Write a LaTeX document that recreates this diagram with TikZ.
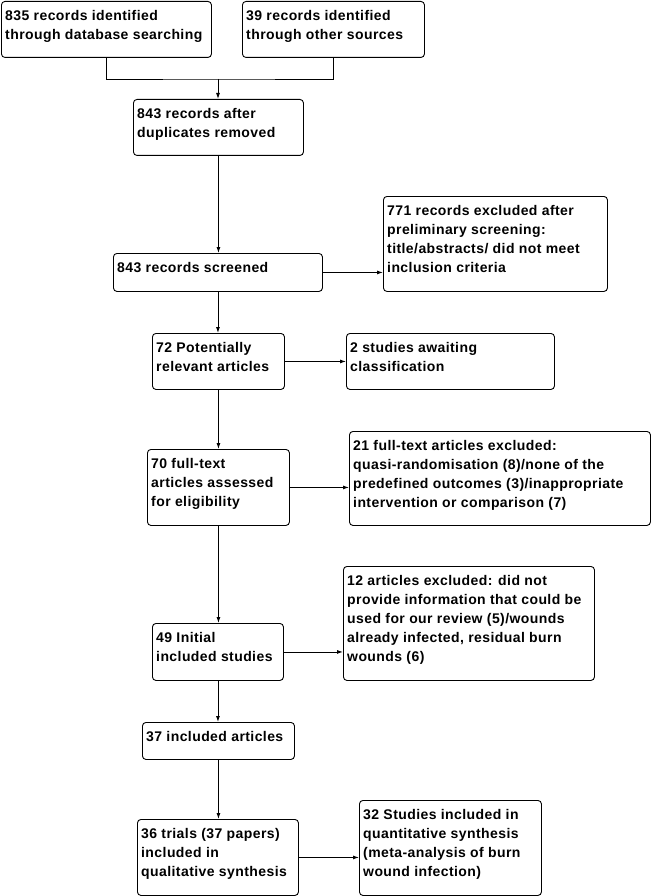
\documentclass[tikz,border=0pt]{standalone}
\usepackage{fontspec}
\newfontfamily\boxfont{Liberation Sans}[LetterSpace=3]
\usetikzlibrary{arrows.meta,calc}
\begin{document}
\begin{tikzpicture}[x=1pt,y=-1pt,
 box/.style={draw, line width=0.9pt, rounded corners=3.5pt, inner sep=0pt, anchor=north west},
 txt/.style={inner sep=0pt, anchor=north west, align=left, font=\boxfont\bfseries\fontsize{14}{19}\selectfont},
 arr/.style={line width=0.9pt, -{Latex[length=6pt,width=4pt]}},
 ln/.style={line width=0.9pt}]
\useasboundingbox (0,0) rectangle (655,896);
% boxes
\node[box, minimum width=210pt, minimum height=56pt] (a) at (1,1) {};
\node[box, minimum width=182pt, minimum height=56pt] (b) at (242,1) {};
\node[box, minimum width=170pt, minimum height=56pt] (c) at (133,99) {};
\node[box, minimum width=209pt, minimum height=38pt] (d) at (113,253) {};
\node[box, minimum width=224pt, minimum height=95pt] (e) at (383,196) {};
\node[box, minimum width=132pt, minimum height=56pt] (f) at (152,333) {};
\node[box, minimum width=208pt, minimum height=56pt] (g) at (346,333) {};
\node[box, minimum width=142pt, minimum height=76pt] (h) at (147,449) {};
\node[box, minimum width=301pt, minimum height=94pt] (i) at (349,431) {};
\node[box, minimum width=131pt, minimum height=57pt] (j) at (152,623) {};
\node[box, minimum width=251pt, minimum height=114pt] (k) at (343,566) {};
\node[box, minimum width=152pt, minimum height=37pt] (l) at (142,722) {};
\node[box, minimum width=161pt, minimum height=76pt] (m) at (137,819) {};
\node[box, minimum width=182pt, minimum height=95pt] (n) at (359,800) {};
% texts
\node[txt] (ta) at (5,10) {835 records identified\\through database searching};
\node[txt] (tb) at (246,10) {39 records identified\\through other sources};
\node[txt] (tc) at (137,108) {843 records after\\duplicates removed};
\node[txt] (td) at (117,262) {843 records screened};
\node[txt] (te) at (387,205) {771 records excluded after\\preliminary screening:\\title/abstracts/ did not meet\\inclusion criteria};
\node[txt] (tf) at (156,342) {72 Potentially\\relevant articles};
\node[txt] (tg) at (350,342) {2 studies awaiting\\classification};
\node[txt] (th) at (151,458) {70 full-text\\articles assessed\\for eligibility};
\node[txt] (ti) at (353,440) {21 full-text articles excluded:\\quasi-randomisation (8)/none of the\\predefined outcomes (3)/inappropriate\\intervention or comparison (7)};
\node[txt] (tj) at (156,632) {49 Initial\\included studies};
\node[txt] (tk) at (347,575) {12 articles excluded: did not\\provide information that could be\\used for our review (5)/wounds\\already infected, residual burn\\wounds (6)};
\node[txt] (tl) at (146,731) {37 included articles};
\node[txt] (tm) at (141,828) {36 trials (37 papers)\\included in\\qualitative synthesis};
\node[txt] (tn) at (363,809) {32 Studies included in\\quantitative synthesis\\(meta-analysis of burn\\wound infection)};
% connectors
\coordinate (mg) at (218,79);
\draw[ln] (a.south) |- (mg) -| (b.south);
\draw[arr] (mg) -- (mg |- c.north);
\draw[arr] (c.south) -- (c.south |- d.north);
\draw[arr] (d.east) -- (d.east -| e.west);
\draw[arr] (d.south) -- (d.south |- f.north);
\draw[arr] (f.east) -- (f.east -| g.west);
\draw[arr] (f.south) -- (f.south |- h.north);
\draw[arr] (h.east) -- (h.east -| i.west);
\draw[arr] (h.south) -- (h.south |- j.north);
\draw[arr] (j.east) -- (j.east -| k.west);
\draw[arr] (j.south) -- (j.south |- l.north);
\draw[arr] (l.south) -- (l.south |- m.north);
\draw[arr] (m.east) -- (m.east -| n.west);
\end{tikzpicture}
\end{document}
